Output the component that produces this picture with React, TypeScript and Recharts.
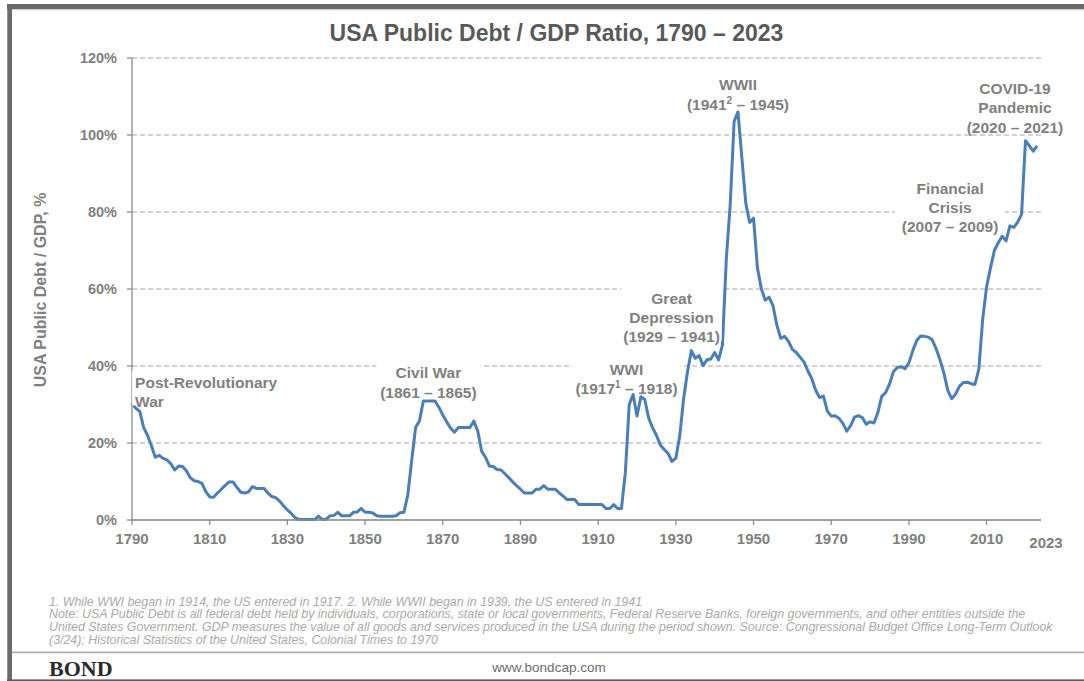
import React from 'react';
import { LineChart, Line, XAxis, YAxis, CartesianGrid, ReferenceDot } from 'recharts';

// ---------- data ----------
const startYear = 1790;

// Public debt / GDP (%), one value per year
const ratio1790to1839 = [
  30.3, 29.0, 28.2, 24.0, 22.0, 19.3, 16.3, 16.8, 16.0, 15.6,
  14.6, 13.0, 14.0, 13.9, 12.8, 11.0, 10.2, 10.0, 9.5, 7.4,
  6.0, 5.9, 7.0, 8.0, 9.0, 9.9, 9.9, 8.5, 7.2, 7.0,
  7.3, 8.7, 8.2, 8.2, 8.2, 7.0, 6.1, 5.8, 4.9, 3.7,
  2.6, 1.7, 0.6, 0.1, 0.1, 0.1, 0.1, 0.1, 1.0, 0.1,
];
const ratio1840to1889 = [
  0.2, 1.1, 1.2, 2.0, 1.1, 1.1, 1.1, 2.0, 2.1, 3.0,
  2.0, 2.0, 1.8, 1.1, 1.0, 1.0, 1.0, 1.0, 1.1, 1.9,
  2.0, 6.5, 15.5, 24.0, 25.7, 30.9, 30.9, 30.9, 30.9, 29.3,
  27.3, 25.5, 23.9, 22.8, 24.0, 24.0, 24.0, 24.0, 25.7, 23.1,
  17.9, 16.3, 14.0, 13.9, 13.1, 13.0, 12.0, 11.0, 9.9, 8.9,
];
const ratio1890to1939 = [
  8.0, 7.0, 7.0, 7.0, 8.0, 8.0, 8.9, 8.0, 8.0, 8.0,
  7.0, 6.2, 5.3, 5.3, 5.3, 4.0, 4.0, 4.0, 4.0, 4.0,
  4.0, 4.0, 3.0, 3.0, 4.0, 3.0, 3.0, 12.3, 30.0, 32.6,
  27.0, 32.0, 31.3, 26.5, 24.0, 22.0, 19.5, 18.3, 17.3, 15.2,
  16.1, 21.8, 31.5, 38.5, 44.0, 42.0, 42.7, 40.1, 41.6, 41.8,
];
const ratio1940to1989 = [
  43.5, 41.6, 45.5, 68.0, 82.0, 103.5, 106.0, 94.0, 82.3, 77.3,
  78.4, 65.5, 60.1, 57.1, 57.9, 55.7, 50.6, 47.2, 47.7, 46.4,
  44.3, 43.5, 42.3, 41.0, 38.7, 36.7, 33.7, 31.8, 32.2, 28.3,
  27.0, 27.1, 26.4, 25.1, 23.1, 24.5, 26.7, 27.1, 26.6, 24.9,
  25.5, 25.2, 27.9, 32.1, 33.1, 35.3, 38.5, 39.6, 39.8, 39.3,
];
const ratio1990to2023 = [
  40.8, 44.0, 46.6, 47.8, 47.7, 47.5, 46.8, 44.5, 41.6, 38.2,
  33.7, 31.5, 32.7, 34.7, 35.7, 35.8, 35.4, 35.2, 39.2, 52.3,
  60.6, 65.5, 70.0, 72.0, 73.7, 72.5, 76.4, 76.0, 77.4, 79.4,
  98.5, 97.2, 95.8, 97.2,
];

const yearTicks = [1790, 1810, 1830, 1850, 1870, 1890, 1910, 1930, 1950, 1970, 1990, 2010];
const percentTicks = [0, 20, 40, 60, 80, 100, 120];

const titleText = 'USA Public Debt / GDP Ratio, 1790 \u2013 2023';
const yAxisTitle = 'USA Public Debt / GDP, %';

// annotation text, anchored (year, %) at the centre of its first line
type Seg = string | [string, string, string];
const annotations: { year: number; value: number; lines: Seg[]; align: 'start' | 'middle'; boxWidth: number }[] = [
  { year: 1790.8, value: 35.8, lines: ['Post-Revolutionary', 'War'], align: 'start', boxWidth: 148 },
  { year: 1866.3, value: 38.2, lines: ['Civil War', '(1861 \u2013 1865)'], align: 'middle', boxWidth: 104 },
  { year: 1917.3, value: 39.1, lines: ['WWI', ['(1917', '1', ' \u2013 1918)']], align: 'middle', boxWidth: 108 },
  { year: 1928.9, value: 57.6, lines: ['Great', 'Depression', '(1929 \u2013 1941)'], align: 'middle', boxWidth: 100 },
  { year: 1946.0, value: 113.0, lines: ['WWII', ['(1941', '2', ' \u2013 1945)']], align: 'middle', boxWidth: 108 },
  { year: 2000.6, value: 86.2, lines: ['Financial', 'Crisis', '(2007 \u2013 2009)'], align: 'middle', boxWidth: 110 },
  { year: 2017.3, value: 112.1, lines: ['COVID-19', 'Pandemic', '(2020 \u2013 2021)'], align: 'middle', boxWidth: 106 },
];

const footnoteLines = [
  '1. While WWI began in 1914, the US entered in 1917. 2. While WWII began in 1939, the US entered in 1941',
  'Note: USA Public Debt is all federal debt held by individuals, corporations, state or local governments, Federal Reserve Banks, foreign governments, and other entities outside the',
  'United States Government. GDP measures the value of all goods and services produced in the USA during the period shown. Source: Congressional Budget Office Long-Term Outlook',
  '(3/24); Historical Statistics of the United States, Colonial Times to 1970',
];

const allRatios = [...ratio1790to1839, ...ratio1840to1889, ...ratio1890to1939, ...ratio1940to1989, ...ratio1990to2023];
const chartData = allRatios.map((v, i) => ({ year: startYear + i, ratio: v }));
const lastYear = chartData[chartData.length - 1].year;

// ---------- styles ----------
const FONT = '"Liberation Sans", Arial, Helvetica, sans-serif';
const GRAY_TEXT = '#808080';
const AXIS_GRAY = '#8c8c8c';
const LINE_BLUE = '#4a7ebb';

const AnnotationLabel = (props: any) => {
  const { viewBox, ann } = props;
  const x = viewBox.x;
  const y = viewBox.y;
  const lh = 19.3;
  const n = ann.lines.length;
  const boxX = ann.align === 'start' ? x - 3 : x - ann.boxWidth / 2;
  const top = y - 12;
  const h = (n - 1) * lh + 16;
  return (
    <g>
      <rect x={boxX} y={top} width={ann.boxWidth} height={h} fill="#ffffff" />
      <text
        textAnchor={ann.align === 'start' ? 'start' : 'middle'}
        fill={GRAY_TEXT}
        fontSize={15.5}
        fontWeight="bold"
        fontFamily={FONT}
      >
        {ann.lines.map((ln: Seg, i: number) =>
          typeof ln === 'string' ? (
            <tspan key={i} x={x} y={y + i * lh + 5.5}>{ln}</tspan>
          ) : (
            <tspan key={i} x={x} y={y + i * lh + 5.5}>
              {ln[0]}
              <tspan dy={-6} fontSize={10}>{ln[1]}</tspan>
              <tspan dy={6}>{ln[2]}</tspan>
            </tspan>
          )
        )}
      </text>
    </g>
  );
};

const EndYearLabel = (props: any) => {
  const vb = props.viewBox;
  return (
    <text
      x={vb.x + vb.width + 5}
      y={vb.y + 28}
      textAnchor="middle"
      fill={GRAY_TEXT}
      fontSize={15}
      fontWeight="bold"
      fontFamily={FONT}
    >
      {String(lastYear)}
    </text>
  );
};

export default function App() {
  return (
    <div style={{ position: 'absolute', left: 0, top: 0, width: 1084, height: 681, background: '#ffffff', overflow: 'hidden' }}>
      <div style={{ position: 'absolute', left: 0, top: 0 }}>
        <LineChart
          width={1084}
          height={681}
          data={chartData}
          margin={{ top: 58, right: 43, bottom: 131, left: 52 }}
        >
          <CartesianGrid
            vertical={false}
            horizontal
            stroke="#a6a6a6"
            strokeDasharray="5 3"
          />
          <XAxis
            dataKey="year"
            type="number"
            domain={[1790, 2024]}
            ticks={yearTicks}
            interval={0}
            height={30}
            axisLine={{ stroke: AXIS_GRAY, strokeWidth: 1.3 }}
            tickLine={{ stroke: AXIS_GRAY, strokeWidth: 1.3 }}
            tickSize={5}
            tickMargin={8}
            tick={{ fill: GRAY_TEXT, fontSize: 15, fontWeight: 'bold', fontFamily: FONT }}
            label={(p: any) => <EndYearLabel {...p} />}
          />
          <YAxis
            type="number"
            domain={[0, 120]}
            ticks={percentTicks}
            interval={0}
            width={80}
            axisLine={{ stroke: AXIS_GRAY, strokeWidth: 1.3 }}
            tickLine={{ stroke: AXIS_GRAY, strokeWidth: 1.3 }}
            tickSize={5}
            tickMargin={10}
            tickFormatter={(v: number) => `${v}%`}
            tick={{ fill: GRAY_TEXT, fontSize: 14.5, fontWeight: 'bold', fontFamily: FONT }}
          />
          {annotations.map((a, i) => (
            <ReferenceDot
              key={i}
              x={a.year}
              y={a.value}
              r={0}
              fill="none"
              stroke="none"
              ifOverflow="visible"
              label={(p: any) => <AnnotationLabel {...p} ann={a} />}
            />
          ))}
          <Line
            type="linear"
            dataKey="ratio"
            stroke={LINE_BLUE}
            strokeWidth={3}
            dot={false}
            activeDot={false}
            strokeLinejoin="round"
            isAnimationActive={false}
          />
        </LineChart>
      </div>
      <svg
        width={1084}
        height={681}
        style={{ position: 'absolute', left: 0, top: 0, pointerEvents: 'none' }}
      >
        {/* frame */}
        <rect x={7} y={4} width={1077} height={5.3} fill="#6a6a6a" />
        <rect x={12} y={9.3} width={1072} height={1} fill="#d4d4d4" />
        <rect x={7.3} y={4} width={4.7} height={677} fill="#6a6a6a" />
        <rect x={12} y={651.6} width={1072} height={1.6} fill="#a9a9a9" />
        <rect x={7} y={679.4} width={1077} height={1.6} fill="#5a5a5a" />
        {/* title */}
        <text x={556.5} y={41.2} textAnchor="middle" fill="#595959" fontSize={23} fontWeight="bold" fontFamily={FONT}>
          {titleText}
        </text>
        {/* y-axis title */}
        <text
          transform="translate(45.7,290) rotate(-90)"
          textAnchor="middle"
          fill={GRAY_TEXT}
          fontSize={16}
          fontWeight="bold"
          fontFamily={FONT}
        >
          {yAxisTitle}
        </text>
        {/* footnotes */}
        {footnoteLines.map((t, i) => (
          <text key={i} x={49} y={605.5 + i * 12.7} fill="#aaaaaa" fontSize={12.4} fontStyle="italic" fontFamily={FONT}>
            {t}
          </text>
        ))}
        <text x={49} y={676} fill="#2a2a2a" fontSize={22} fontWeight="bold" fontFamily={'"Liberation Serif", "Times New Roman", serif'}>
          BOND
        </text>
        <text x={549} y={672} textAnchor="middle" fill="#6d6d6d" fontSize={13.5} fontFamily={FONT}>
          www.bondcap.com
        </text>
      </svg>
    </div>
  );
}
